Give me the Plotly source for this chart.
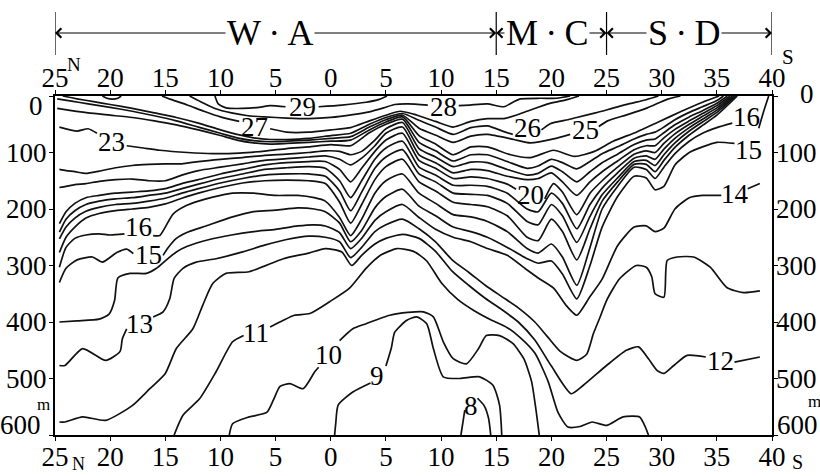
import plotly.graph_objects as go

FONT = "Liberation Serif"

# ---------------- data: isotherms (deg C) as latitude (N negative, S positive) vs depth (m)
GW = [-24.6, -24, -23.2, -22.2, -21, -19.5, -18, -16.5, -15, -13.5, -12, -10, -8, -6, -4, -2,
      -0.5, 0.8, 1.8, 2.8, 4, 5, 6.5]
GE = [8, 9.5, 11.1, 12.7, 14.2, 16, 17.8, 18.8, 20, 21, 22.3, 23.5, 24.6, 26, 27.5, 28.6,
      29.4, 30.2, 31.2, 32.5, 33.7, 35]

t29_lat = [-10.5, -10.2, -9.5, -8, -6.5, -5.5, -4.1, None, -1.1, 1, 3.2, 4.4, 5.1]
t29_dep = [0, 14, 21, 22, 20, 17, 19, None, 19, 16, 11, 6, 0]

t28_lat = [-12.8, -11.8, -10.5, -9, -7.5, -6, -4, -2, 0, 2, 3.5, 4.8, 5.8, 7, 8.8, None,
           11.6, 12.6, 14.2, 15.7, 16.6, 17.2, 19, 20.5, 21.7]
t28_dep = [0, 10, 22, 30, 35, 37, 39, 40, 38, 33, 28, 21, 15, 14, 16, None,
           17, 16, 14, 19, 10, 5, 4, 4, 0]

t27_lat = [-15.3, -14.5, -13, -11.5, -10, -8.3, None, -5.5, -4, -2, 0, 1.8, 3.5, 5, 6.3, 7.5,
           9.5, 11.1, 12.7, 14.2, 15.7, 16.8, 17.8, 18.8, 19.7, 20.6, 21.5, 22.5]
t27_dep = [0, 6, 16, 27, 37, 45, None, 58, 64, 64, 60, 56, 44, 34, 27, 32,
           45, 55, 45, 40, 40, 34, 27, 20, 14, 10, 6, 0]

t27b_lat = [-20.7, -20.3, -19.8, -19.3, -19.0]
t27b_dep = [0, 4, 5.5, 4, 0]

t26_lat = [-24.3, -23, -21.5, -20, -18, -16, -14, -12, -10, -8.5, -7, -5.5, -4, -2, 0, 1.8, 3.5,
           5, 6.5, 8, 9.5, 11.1, 12.7, 14.2, 15.7, 16.5, None, 19.1, 19.9, 21.5, 22.3, 24, 25.5,
           27, 28.5, 29.7]
t26_dep = [0, 5, 10, 15, 22, 30, 38, 48, 60, 68, 74, 77, 77, 75, 70, 66, 50,
           38, 31, 43, 55, 68, 56, 53, 63, 68, None, 60, 49, 42, 38, 30, 22,
           14, 7, 0]

t25_lat = [-24.8, -23.5, -22, -20, -18, -16, -14, -12, -10, -8.5, -7, -5.5, -4, -2, 0, 1.8, 3.5,
           5, 6.5, 8, 9.6, 11.1, 12.7, 14.2, 16.6, 18.1, 20.2, 21.7, None, 24.3, 25.1, 26.9,
           28.7, 30.5, 31.7]
t25_dep = [5, 9, 14, 20, 27, 35, 44, 55, 66, 74, 79, 81, 80, 78, 75, 72, 55,
           42, 34, 57, 70, 82, 71, 68, 77, 83, 76, 68, None, 54, 44, 33,
           21, 6, 0]

t24_lat = [-24.8, -23.5, -22, -20, -18, -16, -14, -12, -10, -8.5, -7, -5.5, -4, -2, 0, 1.8, 3.5,
           5, 6.5, 8, 9.5, 11.1, 12.7, 14.2, 16.3, 18.1, 20.2, 22.1, 23.9, 25.6, 27.7, 29.7,
           31.8, 33.7, 35.2]
t24_dep = [22, 26, 30, 34, 38, 44, 51, 60, 70, 78, 83, 85, 84, 82, 80, 78, 60,
           46, 37, 70, 85, 104, 90, 90, 104, 109, 96, 107, 98, 80, 64, 46,
           27, 11, 0]

t23_lat = [-24.6, -23, -22, -21.2, None, -18.5, -17, -15.5, -13, -10.7, -8.3, -5.8, -4, -2, 0,
           1.8, 3.5, 5, 6.5] + GE + [35.6]
t23_dep = [55, 62, 58, 66, None, 88, 92, 96, 100, 102, 101, 97, 93, 90, 86,
           88, 65, 50, 41,
           82, 97, 115, 104, 104, 116, 128, 124, 112, 118, 129, 116, 102, 90, 76, 68,
           64, 55, 42, 29, 19, 8, 0]

t22_lat = GW + GE + [35.95]
t22_dep = [130, 132, 134, 137, 133, 127, 123, 121, 120, 120, 116, 112, 109, 105, 103, 100,
           97, 98, 104, 98, 78, 58, 47,
           93, 108, 125, 117, 118, 130, 140, 137, 124, 134, 152, 134, 118, 103, 86, 78,
           76, 65, 51, 37, 26, 13, 0]

t21_lat = GW + GE + [36.2]
t21_dep = [162, 160, 157, 155, 151, 148, 147, 150, 150, 140, 132, 126, 120, 114, 111, 108,
           106, 112, 122, 110, 88, 66, 55,
           104, 118, 136, 130, 132, 142, 148, 146, 136, 152, 176, 152, 134, 115, 95, 88,
           88, 74, 59, 44, 31, 17, 0]

t20_lat = GW + [8, 9.5, 11.1, 12.7, 14.2, 16, 16.8, None, 19.4, 20.2, 21, 22.3, 23.5, 24.6, 26,
                27.5, 28.6, 29.4, 30.2, 31.2, 32.5, 33.7, 35, 36.4]
t20_dep = [226, 205, 190, 180, 176, 172, 170, 168, 164, 155, 148, 138, 130, 122, 118,
           116, 116, 130, 152, 128, 98, 78, 66,
           114, 128, 146, 143, 146, 156, 165, None, 182, 155, 170, 210, 172, 150, 126,
           103, 97, 100, 84, 67, 50, 36, 21, 0]

t19_lat = GW + GE + [36.55]
t19_dep = [241, 218, 203, 192, 186, 182, 180, 176, 172, 164, 156, 146, 138, 130, 127, 125,
           128, 150, 180, 150, 112, 92, 80,
           126, 140, 158, 158, 160, 172, 200, 205, 172, 190, 235, 192, 163, 136, 110, 106,
           112, 94, 75, 56, 41, 25, 0]

t18_lat = GW + GE + [36.7]
t18_dep = [253, 232, 216, 204, 197, 192, 190, 186, 181, 172, 164, 154, 146, 140, 138, 138,
           142, 168, 203, 170, 128, 108, 95,
           138, 152, 172, 174, 176, 190, 222, 228, 192, 212, 259, 213, 175, 145, 116, 114,
           123, 104, 83, 62, 46, 29, 0]

t17_lat = GW + GE + [36.85]
t17_dep = [277, 250, 232, 216, 208, 203, 200, 197, 191, 181, 172, 162, 154, 150, 149, 150,
           155, 188, 225, 192, 148, 125, 112,
           152, 168, 188, 192, 196, 212, 250, 256, 218, 240, 290, 235, 186, 152, 121, 121,
           134, 114, 91, 69, 52, 34, 0]

t16_lat = [-24.6, -24, -23.2, -22.2, -21, -20, -18.7, None, -16.1, -15.5, -15, -14.3, -13.1,
           -12, -10.7, -8.9, -7, -5, -3, -1.5, -0.5, 0.8, 1.8, 2.8, 4, 5, 6.5] + GE + \
          [36.4, None, 38.8, 39.2, 39.7]
t16_dep = [303, 268, 252, 246, 244, 246, 244, None, 247, 247, 232, 209, 194,
           186, 179, 172, 172, 176, 176, 180, 186, 215, 247, 218, 172, 150, 138,
           172, 190, 210, 214, 222, 240, 270, 278, 262, 285, 335, 268, 200, 160, 126, 130,
           146, 126, 102, 80, 66, 56,
           48, None, 57, 30, 0]

t15_lat = [-24.6, -24, -23, -21.6, -20.7, -19.4, -18.5, -17.9, None, -15.2, -14.8, -14, -13.1,
           -11.3, -8.9, -7.1, -5, -3, -1.5, -0.5, 0.8, 1.8, 2.8, 4, 5, 6.5] + GE + [36.6]
t15_dep = [330, 305, 290, 285, 294, 277, 271, 279, None, 282, 270, 252, 242,
           230, 214, 205, 202, 198, 200, 205, 225, 258, 238, 198, 178, 165,
           195, 212, 232, 240, 250, 268, 288, 296, 292, 315, 359, 300, 232, 178, 142, 145,
           166, 160, 122, 100, 90, 82, 84]

t14_lat = [-24.6, -23, -21, -20.1, -19.6, -19.3, -18.2, -16.7, -15.8, -14.9, -14, -13, -11, -9,
           -7, -5, -3, -1.5, -0.5, 0.8, 1.8, 2.8, 4, 5, 6.5,
           8, 9.5, 11.1, 12.7, 14.2, 16, 17.8, 18.8, 20.2, 21.4, 22.3, 23.5, 24.6, 26, 27.5,
           28.6, 29.4, 30.2, 31.2, 32.5, 33.7, 35.4, None, 37.8, 38.9]
t14_dep = [400, 398, 395, 386, 362, 322, 314, 314, 305, 290, 276, 266, 254, 246,
           240, 236, 230, 228, 230, 242, 270, 252, 220, 205, 192,
           215, 236, 250, 258, 270, 282, 308, 322, 340, 372, 388, 355, 324, 265, 232,
           230, 240, 234, 200, 180, 176, 176, None, 164, 155]

t13_lat = [-24.6, -24.1, -22.5, -20.4, -19.1, -18.9, -18.5, None, -16.1, -15.2, -14.6, -14.2,
           -13.4, -12.2, -10.4, -8, -6, -4, -2, -0.5, 0.8, 1.8, 2.8, 4, 5, 6.5, 8, 9.5, 11,
           12.5, 14, 15.5, 17, 18.5, 19.6, 20.8, 22.3, 23.2, 23.8, 24.4, 25, 26.2, 27.7, 28.6,
           29.1, 29.4, 30.2, 30.5, 31.4, 32.9, 34.4, 35.9, 37.4, 38.9]
t13_dep = [477, 477, 447, 468, 452, 430, 412, None, 391, 382, 359, 323,
           305, 294, 288, 276, 264, 254, 248, 250, 258, 286, 268, 240, 228, 218, 235, 258, 290,
           312, 335, 355, 375, 400, 425, 452, 468, 457, 421, 392, 362, 323, 300, 303,
           320, 350, 356, 291, 285, 285, 303, 339, 348, 345]

t12_lat = [-24.6, -24.1, -22.5, -20.4, -18, -16.4, -15, -14, -12.5, -11.6, -10.7, -9.5, -7.4,
           -4.3, -2, -0.5, 1, 1.9, 2.8, 4, 5, 6.5, 8, 9.5, 11, 12.5, 14, 15.5, 17, 18.5, 20,
           21.8, 22.9, 25, 26.8, 27.9, 28.8, 29.6, 30.2, 31.1, 32.3, 34.0, None, 36.6, 38.9]
t12_dep = [577, 577, 568, 574, 548, 518, 491, 447, 412, 370, 332, 314, 311,
           288, 278, 270, 276, 300, 282, 262, 252, 245, 252, 275, 310, 335, 358, 378, 400, 432,
           478, 527, 512, 477, 450, 444, 465, 486, 491, 477, 459, 462, None, 471, 462]

t11_lat = [-14.2, -13.4, -11.9, -10.4, -8.9, -7.9, None, -5.5, -4.3, -3.3, -1.9, -0.1, 1.7, 3.2,
           4.5, 6, 7.5, 8.7, 10, 11.5, 13, 14.5, 16, 17.2, 18.5, 19.7, 20.6, 21.5, 22.6, 23.7,
           25, 26.5, 28, 28.5, 28.8]
t11_dep = [600, 565, 536, 488, 435, 424, None, 409, 397, 388, 385, 364, 340, 305,
           282, 270, 275, 292, 330, 360, 380, 396, 410, 428, 455, 505, 560, 586, 585, 577,
           583, 568, 568, 585, 600]

t10_lat = [-9.2, -8.9, -7.4, -5.8, -5.2, -4.6, -3.7, -2.5, -1.45, -1.1, None, 0.8, 2, 3.2, 5.35,
           7, 8.4, 9.3, 10.2, 11.1, 12.3, 13.4, 14.1, 15.3, 16.5, 17.5, 18.2, 18.6, 18.9]
t10_dep = [600, 580, 568, 560, 538, 514, 509, 518, 488, 480, None, 433, 412, 403, 388,
           383, 382, 391, 435, 465, 474, 447, 424, 424, 438, 465, 505, 555, 600]

t9_lat = [0.35, 0.45, 0.67, 2.0, 3.6, None, 5.0, 5.5, 5.8, 6.9, 7.8, 8.7, 9.3, 10.2, 11.7,
          13.5, 14.7, 15.3, 15.5]
t9_dep = [600, 580, 547, 524, 508, None, 478, 445, 418, 397, 391, 403, 447, 497, 500,
          497, 512, 547, 600]

t8_lat = [11.8, 12.0, 12.15, None, 13.3, 13.9, 14.3, 14.5]
t8_dep = [600, 575, 556, None, 535, 548, 570, 600]

# contour labels
label_text = ["29", "28", "27", "26", "25", "23", "20", "16", "15", "16", "15", "14",
              "13", "12", "11", "10", "9", "8"]
label_lat = [-2.6, 10.2, -6.9, 17.85, 23.05, -19.85, 18.1, -17.4, -16.55, 37.65, 37.85, 36.6,
             -17.35, 35.3, -6.75, -0.17, 4.2, 12.7]
label_dep = [19, 20, 55, 56, 60, 81, 175, 232, 281, 38, 96, 174,
             403, 469, 420, 459, 496, 548]

# axes
x_tick_vals = [-25, -20, -15, -10, -5, 0, 5, 10, 15, 20, 25, 30, 35, 40]
x_tick_text = ["25", "20", "15", "10", "5", "0", "5", "10", "15", "20", "25", "30", "35", "40"]
y_tick_vals = [0, 100, 200, 300, 400, 500, 600]
y_tick_text = ["0", "100", "200", "300", "400", "500", "600"]

# regions along the top
region_names = ["W\u2009·\u2009A", "M\u2009·\u2009C", "S\u2009·\u2009D"]
region_start = [-25, 15, 25]
region_end = [15, 25, 40]
region_label_x = [-5.5, 19.6, 32.0]

isotherms = [
    ("29", t29_lat, t29_dep), ("28", t28_lat, t28_dep), ("27", t27_lat, t27_dep),
    ("27", t27b_lat, t27b_dep), ("26", t26_lat, t26_dep), ("25", t25_lat, t25_dep),
    ("24", t24_lat, t24_dep), ("23", t23_lat, t23_dep), ("22", t22_lat, t22_dep),
    ("21", t21_lat, t21_dep), ("20", t20_lat, t20_dep), ("19", t19_lat, t19_dep),
    ("18", t18_lat, t18_dep), ("17", t17_lat, t17_dep), ("16", t16_lat, t16_dep),
    ("15", t15_lat, t15_dep), ("14", t14_lat, t14_dep), ("13", t13_lat, t13_dep),
    ("12", t12_lat, t12_dep), ("11", t11_lat, t11_dep), ("10", t10_lat, t10_dep),
    ("9", t9_lat, t9_dep), ("8", t8_lat, t8_dep),
]

fig = go.Figure()
for name, la, de in isotherms:
    fig.add_trace(go.Scatter(
        x=la, y=de, mode="lines", name=name, connectgaps=False,
        line=dict(color="#111111", width=1.7, shape="spline", smoothing=0.6),
        hoverinfo="skip", showlegend=False))

# carrier for the top axis
fig.add_trace(go.Scatter(x=[x_tick_vals[0], x_tick_vals[-1]], y=[0, 0], xaxis="x2",
                         mode="markers", marker=dict(opacity=0), hoverinfo="skip",
                         showlegend=False))

L, R, T, B = 55, 48, 96, 41
W, H = 820, 476
PW, PH = W - L - R, H - T - B
FS = 27


def px_x(px):
    return (px - L) / PW


def px_y(py):
    return (H - B - py) / PH


def txt_font(size):
    return dict(family=FONT, size=size, color="black")


ann = []
for txt, la, de in zip(label_text, label_lat, label_dep):
    ann.append(dict(x=la, y=de, xref="x", yref="y", text=txt, showarrow=False,
                    font=txt_font(FS), xanchor="center", yanchor="middle"))

# left / right depth labels
for v, t in zip(y_tick_vals, y_tick_text):
    if v == 0:
        lx, rx, ys_l, ys_r = 45, 816, -10, 2
    elif v == 600:
        lx, rx, ys_l, ys_r = 43, 820, 10, 10
    else:
        lx, rx, ys_l, ys_r = 49, 819, 0, 0
    ann.append(dict(x=px_x(lx), y=v, xref="paper", yref="y", text=t, showarrow=False,
                    xanchor="right", yanchor="middle", yshift=ys_l, font=txt_font(FS)))
    ann.append(dict(x=px_x(rx), y=v, xref="paper", yref="y", text=t, showarrow=False,
                    xanchor="right", yanchor="middle", yshift=ys_r, font=txt_font(FS)))
# "m" unit
ann.append(dict(x=px_x(43), y=546, xref="paper", yref="y", text="m", showarrow=False,
                xanchor="center", yanchor="middle", font=txt_font(17)))
ann.append(dict(x=px_x(814), y=540, xref="paper", yref="y", text="m", showarrow=False,
                xanchor="center", yanchor="middle", font=txt_font(17)))

# N / S markers on the latitude scales
ann.append(dict(x=px_x(74), y=px_y(64), xref="paper", yref="paper", text="N", showarrow=False,
                xanchor="center", yanchor="middle", font=txt_font(19)))
ann.append(dict(x=px_x(788), y=px_y(57), xref="paper", yref="paper", text="S", showarrow=False,
                xanchor="center", yanchor="middle", font=txt_font(21)))
ann.append(dict(x=px_x(78), y=px_y(464), xref="paper", yref="paper", text="N", showarrow=False,
                xanchor="center", yanchor="middle", font=txt_font(18)))
ann.append(dict(x=px_x(797), y=px_y(462), xref="paper", yref="paper", text="S", showarrow=False,
                xanchor="center", yanchor="middle", font=txt_font(20)))

# region brackets
yb = px_y(33)
shapes = []
for xs in sorted(set(region_start + region_end)):
    shapes.append(dict(type="line", xref="x", yref="paper", x0=xs, x1=xs,
                       y0=px_y(55), y1=px_y(12), line=dict(color="black", width=1.2)))
for s, e, c in zip(region_start, region_end, region_label_x):
    for head in (s, e):
        ann.append(dict(x=head, y=yb, ax=c, ay=0, xref="x", yref="paper", axref="x",
                        ayref="pixel", text="", showarrow=True, arrowhead=4, arrowsize=1.7,
                        arrowwidth=1.1, arrowcolor="black", standoff=0, startstandoff=0))
for name, c in zip(region_names, region_label_x):
    ann.append(dict(x=c, y=yb, xref="x", yref="paper", text=name, showarrow=False,
                    xanchor="center", yanchor="middle", bgcolor="white", borderpad=1,
                    font=txt_font(36)))

fig.update_layout(
    width=W, height=H,
    margin=dict(l=L, r=R, t=T, b=B, autoexpand=False),
    paper_bgcolor="white", plot_bgcolor="white",
    font=txt_font(FS),
    showlegend=False, hovermode=False,
    xaxis=dict(range=[-25, 40], tickvals=x_tick_vals, ticktext=x_tick_text,
               ticks="outside", ticklen=4, tickwidth=1.2, tickcolor="black",
               showline=True, linecolor="black", linewidth=1.5, mirror="ticks",
               showgrid=False, zeroline=False, ticklabelstandoff=-7,
               tickfont=txt_font(FS)),
    xaxis2=dict(range=[-25, 40], overlaying="x", side="top", tickvals=x_tick_vals,
                ticktext=x_tick_text, ticks="", showline=False, showgrid=False,
                zeroline=False, ticklabelstandoff=3,
                tickfont=txt_font(FS)),
    yaxis=dict(range=[600, 0], tickvals=y_tick_vals, ticks="outside", ticklen=4,
               tickwidth=1.2, tickcolor="black", showticklabels=False,
               showline=True, linecolor="black", linewidth=1.5, mirror="ticks",
               showgrid=False, zeroline=False),
    annotations=ann, shapes=shapes,
)

fig.write_html("out.html", config={"displayModeBar": False},
               post_script="document.body.style.margin='0px';")
